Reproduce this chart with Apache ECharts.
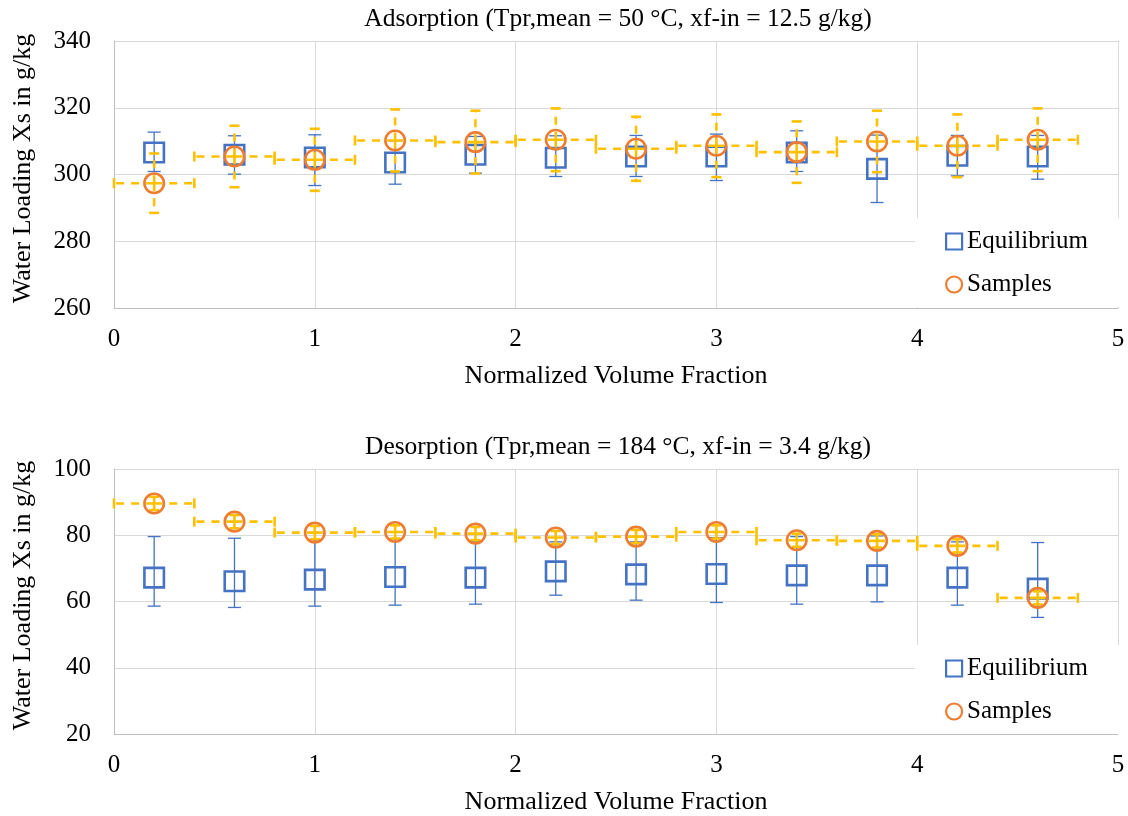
<!DOCTYPE html>
<html>
<head>
<meta charset="utf-8">
<script src="https://cdn.jsdelivr.net/npm/echarts@6/dist/echarts.min.js"></script>
<style>
html,body{margin:0;padding:0;background:#fff;}
#chart{width:1128px;height:816px;}
</style>
</head>
<body>
<div id="chart"></div>
<script>
// ---- Data ----
const xPos = [0.2, 0.6, 1.0, 1.4, 1.8, 2.2, 2.6, 3.0, 3.4, 3.8, 4.2, 4.6];
const binHalfWidth = 0.2;

// Adsorption
const eqAds         = [306.6, 305.9, 305.1, 303.6, 305.9, 305.0, 305.4, 305.4, 306.6, 301.7, 305.6, 305.4];
const eqAdsErrPlus  = [6.1, 5.7, 6.8, 6.5, 5.5, 6.6, 6.3, 6.7, 6.5, 10.1, 6.1, 6.3];
const eqAdsErrMinus = [5.7, 5.8, 8.4, 6.5, 5.5, 5.6, 6.0, 7.2, 5.7, 10.1, 6.0, 6.8];
const samAds        = [297.4, 305.4, 304.4, 310.2, 309.7, 310.4, 307.7, 308.6, 306.7, 309.9, 308.6, 310.4];
const samAdsErr     = [8.9, 9.2, 9.3, 9.3, 9.4, 9.4, 9.6, 9.4, 9.2, 9.2, 9.4, 9.4];

// Desorption
const eqDes         = [67.2, 66.1, 66.6, 67.4, 67.2, 69.1, 68.2, 68.3, 67.9, 67.9, 67.2, 63.9];
const eqDesErrPlus  = [12.4, 13.0, 12.0, 11.5, 10.8, 8.9, 9.8, 11.0, 11.7, 11.9, 10.8, 13.9];
const eqDesErrMinus = [8.6, 7.9, 8.0, 8.5, 8.0, 7.2, 7.8, 8.6, 8.7, 8.0, 8.3, 8.7];
const samDes        = [89.6, 84.1, 80.8, 81.0, 80.5, 79.3, 79.6, 81.0, 78.5, 78.3, 76.8, 61.1];
const samDesErr     = [2, 2, 2, 2, 2, 2, 2, 2, 2, 2, 2, 2];

const titles = ['Adsorption (Tpr,mean = 50 °C, xf-in = 12.5 g/kg)', 'Desorption (Tpr,mean = 184 °C, xf-in = 3.4 g/kg)'];
const xName = 'Normalized Volume Fraction';
const yName = 'Water Loading Xs in g/kg';
const yRanges = [[260, 340], [20, 100]];
const yInterval = 20;

// ---- Styles ----
const BLUE = '#4472C4', ORANGE = '#ED7D31', GOLD = '#FFC000';
const FONT = 'Liberation Serif';

function renderEqErr(params, api) {
  const x = api.value(0), y = api.value(1), ep = api.value(2), em = api.value(3);
  const t = api.coord([x, y + ep]), b = api.coord([x, y - em]);
  const cw = 6.5;
  const st = {stroke: BLUE, lineWidth: 1.3, fill: null};
  return {type: 'group', children: [
    {type: 'line', shape: {x1: t[0], y1: t[1], x2: b[0], y2: b[1]}, style: st},
    {type: 'line', shape: {x1: t[0]-cw, y1: t[1], x2: t[0]+cw, y2: t[1]}, style: st},
    {type: 'line', shape: {x1: b[0]-cw, y1: b[1], x2: b[0]+cw, y2: b[1]}, style: st}
  ]};
}

function renderSamErr(params, api) {
  const x = api.value(0), y = api.value(1), e = api.value(2), h = api.value(3);
  const c = api.coord([x, y]);
  const t = api.coord([x, y + e]), b = api.coord([x, y - e]);
  const l = api.coord([x - h, y]), r = api.coord([x + h, y]);
  const cw = 5;
  const dash = {stroke: GOLD, lineWidth: 2.6, lineDash: [8, 7], fill: null};
  const solid = {stroke: GOLD, lineWidth: 2.6, fill: null};
  return {type: 'group', children: [
    {type: 'line', shape: {x1: c[0], y1: c[1], x2: t[0], y2: t[1]}, style: dash},
    {type: 'line', shape: {x1: c[0], y1: c[1], x2: b[0], y2: b[1]}, style: dash},
    {type: 'line', shape: {x1: c[0], y1: c[1], x2: l[0], y2: l[1]}, style: dash},
    {type: 'line', shape: {x1: c[0], y1: c[1], x2: r[0], y2: r[1]}, style: dash},
    {type: 'line', shape: {x1: t[0]-cw, y1: t[1], x2: t[0]+cw, y2: t[1]}, style: solid},
    {type: 'line', shape: {x1: b[0]-cw, y1: b[1], x2: b[0]+cw, y2: b[1]}, style: solid},
    {type: 'line', shape: {x1: l[0], y1: l[1]-cw, x2: l[0], y2: l[1]+cw}, style: solid},
    {type: 'line', shape: {x1: r[0], y1: r[1]-cw, x2: r[0], y2: r[1]+cw}, style: solid}
  ]};
}

const grids = [
  {left: 114, top: 41, width: 1004, height: 267},
  {left: 114, top: 469, width: 1004, height: 268}
];

const xAxes = [0, 1].map(i => ({
  type: 'value', gridIndex: i, min: 0, max: 5, interval: 1,
  name: xName, nameLocation: 'middle', nameGap: 55,
  nameTextStyle: {fontFamily: FONT, fontSize: 26, color: '#000'},
  axisLine: {show: true, lineStyle: {color: '#bfbfbf', width: 1}},
  axisTick: {show: false},
  axisLabel: {fontFamily: FONT, fontSize: 25, color: '#000', margin: 19},
  splitLine: {show: true, lineStyle: {color: '#d9d9d9', width: 1}}
}));

const yAxes = [0, 1].map(i => ({
  type: 'value', gridIndex: i, min: yRanges[i][0], max: yRanges[i][1], interval: yInterval,
  name: yName, nameLocation: 'middle', nameGap: 78, nameRotate: 90,
  nameTextStyle: {fontFamily: FONT, fontSize: 26, color: '#000', padding: [0, 0, 0, 12]},
  axisLine: {show: true, lineStyle: {color: '#bfbfbf', width: 1}},
  axisTick: {show: false},
  axisLabel: {fontFamily: FONT, fontSize: 25, color: '#000', margin: 23},
  splitLine: {show: true, lineStyle: {color: '#d9d9d9', width: 1}}
}));

const legendData = [
  {name: 'Equilibrium', icon: 'rect', itemStyle: {color: 'rgba(0,0,0,0)', borderColor: BLUE, borderWidth: 2.2}},
  {name: 'Samples', icon: 'circle', itemStyle: {color: 'rgba(0,0,0,0)', borderColor: ORANGE, borderWidth: 2.2}}
];

const legends = [218, 645].map(top => ({
  orient: 'vertical', left: 915, top: top,
  backgroundColor: '#fff',
  padding: [11, 32, 10, 30],
  itemWidth: 16, itemHeight: 16, itemGap: 18,
  textStyle: {fontFamily: FONT, fontSize: 25, color: '#000', lineHeight: 25},
  selectedMode: false,
  data: legendData
}));

const datasets = [
  {eq: eqAds, eqP: eqAdsErrPlus, eqM: eqAdsErrMinus, sam: samAds, samE: samAdsErr},
  {eq: eqDes, eqP: eqDesErrPlus, eqM: eqDesErrMinus, sam: samDes, samE: samDesErr}
];

const series = [];
datasets.forEach((d, i) => {
  series.push({
    name: 'eqErr' + i, type: 'custom', xAxisIndex: i, yAxisIndex: i,
    renderItem: renderEqErr, encode: {x: 0, y: 1}, z: 2,
    data: xPos.map((x, k) => [x, d.eq[k], d.eqP[k], d.eqM[k]])
  });
  series.push({
    name: 'Equilibrium', type: 'scatter', xAxisIndex: i, yAxisIndex: i,
    symbol: 'rect', symbolSize: 19.5, z: 3,
    itemStyle: {color: 'rgba(0,0,0,0)', borderColor: BLUE, borderWidth: 2.6, opacity: 1},
    emphasis: {disabled: true},
    data: xPos.map((x, k) => [x, d.eq[k]])
  });
  series.push({
    name: 'samErr' + i, type: 'custom', xAxisIndex: i, yAxisIndex: i,
    renderItem: renderSamErr, encode: {x: 0, y: 1}, z: 4,
    data: xPos.map((x, k) => [x, d.sam[k], d.samE[k], binHalfWidth])
  });
  series.push({
    name: 'Samples', type: 'scatter', xAxisIndex: i, yAxisIndex: i,
    symbol: 'circle', symbolSize: 19.5, z: 5,
    itemStyle: {color: 'rgba(0,0,0,0)', borderColor: ORANGE, borderWidth: 2.6, opacity: 1},
    emphasis: {disabled: true},
    data: xPos.map((x, k) => [x, d.sam[k]])
  });
});

const chart = echarts.init(document.getElementById('chart'), null, {renderer: 'canvas'});
chart.setOption({
  animation: false,
  backgroundColor: '#fff',
  title: [
    {text: titles[0], left: 613, textAlign: 'center', top: 1, textStyle: {fontFamily: FONT, fontSize: 25.5, fontWeight: 'normal', color: '#000'}},
    {text: titles[1], left: 613, textAlign: 'center', top: 429, textStyle: {fontFamily: FONT, fontSize: 25.5, fontWeight: 'normal', color: '#000'}}
  ],
  grid: grids,
  xAxis: xAxes,
  yAxis: yAxes,
  legend: legends,
  series: series
});
</script>
</body>
</html>
